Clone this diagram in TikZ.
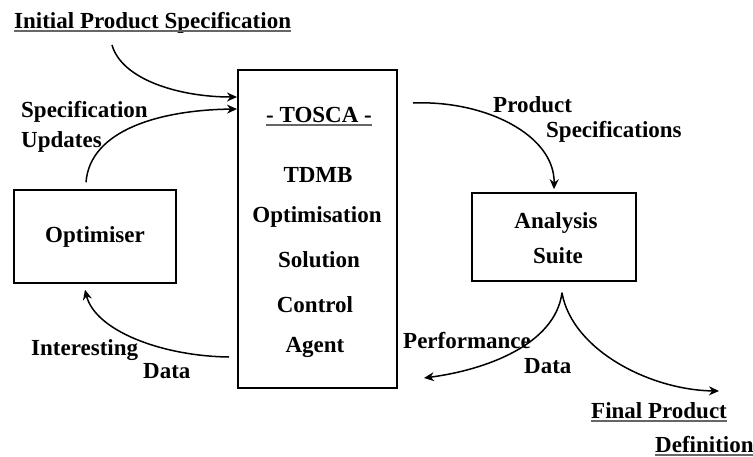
\documentclass[tikz,border=0pt]{standalone}
\usepackage{fontspec}
\setmainfont{Liberation Serif}
\usetikzlibrary{arrows.meta}
\begin{document}
\begin{tikzpicture}[x=1pt,y=-1pt,
  txt/.style={inner sep=0pt, font=\bfseries\fontsize{23}{27}\selectfont},
  lbl/.style={txt, anchor=base west},
  ctr/.style={txt, anchor=base},
  box/.style={draw, line width=1.5pt, inner sep=0pt},
  arr/.style={line width=1.5pt, -{Stealth[length=10pt,width=9pt]}},
  uline/.style={line width=1.6pt, black!60}]
\useasboundingbox (0,0) rectangle (753,456);

% boxes
\node[box, line width=2pt, minimum width=159pt, minimum height=318pt] (tosca) at (317.5,229) {};
\node[box, minimum width=162pt, minimum height=93pt] (opt) at (95,236.5) {};
\node[box, minimum width=164pt, minimum height=88pt] (as) at (554,237) {};

% box contents
\node[ctr] (tt) at (319,122) {- TOSCA -};
\draw[uline] ([yshift=-3pt]tt.base west) -- ([yshift=-3pt]tt.base east);
\node[ctr] (t1) at (318,182) {TDMB};
\node[ctr] (t2) at (317,222) {Optimisation};
\node[ctr] (t3) at (319,267) {Solution};
\node[ctr] (t4) at (315,312) {Control};
\node[ctr] (t5) at (315,352) {Agent};
\node[ctr] (o1) at (95,242) {Optimiser};
\node[ctr] (a1) at (556,228) {Analysis};
\node[ctr] (a2) at (558,263) {Suite};

% free labels
\node[lbl] (ips) at (14,28) {Initial Product Specification};
\draw[uline] ([yshift=-3pt]ips.base west) -- ([yshift=-3pt]ips.base east);
\node[lbl] (su1) at (21,117) {Specification};
\node[lbl] (su2) at (21,147) {Updates};
\node[lbl] (ps1) at (493,112) {Product};
\node[lbl] (ps2) at (546,137) {Specifications};
\node[lbl] (id1) at (31,355) {Interesting};
\node[lbl] (id2) at (143,378) {Data};
\node[lbl] (pd1) at (403,348) {Performance};
\node[lbl] (pd2) at (524,373) {Data};
\node[lbl] (fp1) at (591,418) {Final Product};
\draw[uline] ([yshift=-3pt]fp1.base west) -- ([yshift=-3pt]fp1.base east);
\node[lbl] (fp2) at (655,452) {Definition};
\draw[uline] ([yshift=-3pt]fp2.base west) -- ([yshift=-3pt]fp2.base east);

% connector ends
\coordinate (ipsfoot) at ([shift={(98pt,-17pt)}]ips.base west);
\coordinate (split) at ([shift={(8pt,-11pt)}]as.south);
\coordinate (perfend) at (424,378);
\coordinate (finend) at (719,391);

% connectors
\draw[arr] (ipsfoot) .. controls (122,80) and (180,97) .. ([yshift=-28pt]tosca.north west);
\draw[arr] ([shift={(-9pt,7pt)}]opt.north) .. controls (90,130) and (160,110) .. ([yshift=-40pt]tosca.north west);
\draw[arr] ([shift={(15pt,-34pt)}]tosca.north east) .. controls (485,100) and (555,135) .. ([yshift=3pt]as.north);
\draw[arr] ([shift={(-8pt,32pt)}]tosca.south west) .. controls (160,356) and (95,330) .. ([shift={(-10pt,-6pt)}]opt.south);
\draw[arr] (split) .. controls (555,345) and (485,370) .. (perfend);
\draw[arr] (split) .. controls (572,350) and (650,390) .. (finend);
\end{tikzpicture}
\end{document}
